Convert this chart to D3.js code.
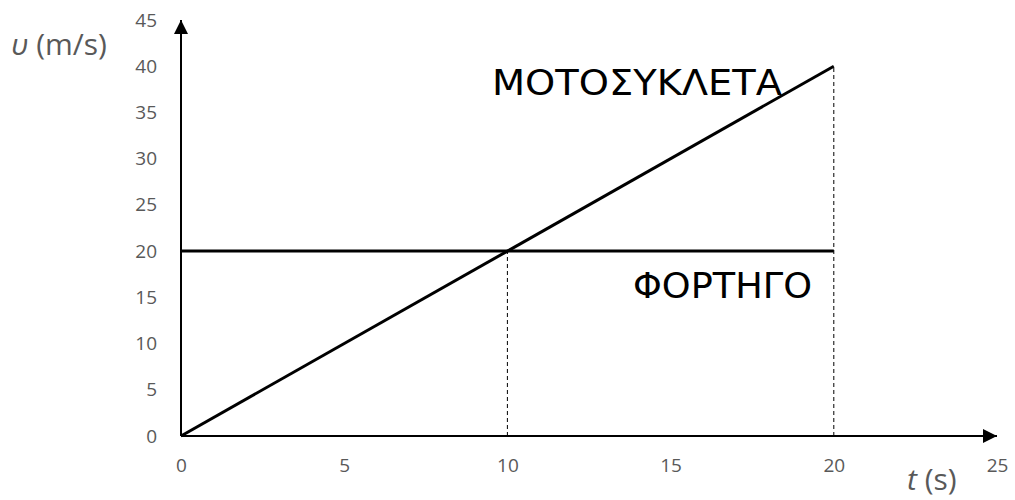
<!DOCTYPE html>
<html>
<head>
<meta charset="utf-8">
<script src="https://cdn.jsdelivr.net/npm/d3@7"></script>
<style>
  body { margin: 0; background: #fff; }
</style>
</head>
<body>
<svg id="drawing_region"></svg>
<script>
// time (s) and speeds (m/s)
const times = [0, 10, 20];
const motoSpeed = [0, 20, 40];
const truckTimes = [0, 20];
const truckSpeed = [20, 20];
const xTicks = [0, 5, 10, 15, 20, 25];
const yTicks = [0, 5, 10, 15, 20, 25, 30, 35, 40, 45];
const crossTimes = [10, 20];   // dashed guides
const crossSpeeds = [20, 40];

const width = 1015, height = 500;

const svg = d3.select('#drawing_region')
    .attr('width', width)
    .attr('height', height);

const xscale = d3.scaleLinear().domain([0, 25]).range([181, 997]);
const yscale = d3.scaleLinear().domain([0, 45]).range([436, 20]);

svg.append('defs').append('marker')
    .attr('id', 'arrow')
    .attr('viewBox', '0 0 10 10')
    .attr('refX', 10).attr('refY', 5)
    .attr('markerWidth', 7).attr('markerHeight', 7)
    .attr('markerUnits', 'strokeWidth')
    .attr('orient', 'auto')
    .append('path')
    .attr('d', 'M0,0 L10,5 L0,10 Z')
    .attr('fill', '#000');

const styleTicks = g => {
    g.select('.domain').remove();
    g.selectAll('.tick text')
        .attr('fill', '#595959')
        .attr('font-family', '"Open Sans", sans-serif')
        .attr('font-size', '19px');
};

// axes (labels only, lines drawn separately with arrows)
const xaxis = d3.axisBottom(xscale).tickValues(xTicks).tickSize(0).tickPadding(23);
svg.append('g')
    .attr('transform', `translate(0, ${yscale(0)})`)
    .call(xaxis)
    .call(styleTicks);

const yaxis = d3.axisLeft(yscale).tickValues(yTicks).tickSize(0).tickPadding(24);
svg.append('g')
    .attr('transform', `translate(${xscale(0)}, 0)`)
    .call(yaxis)
    .call(styleTicks);

// dashed guides
svg.selectAll('line.guide')
    .data(crossTimes)
    .enter()
    .append('line')
    .attr('class', 'guide')
    .attr('x1', d => xscale(d)).attr('x2', d => xscale(d))
    .attr('y1', yscale(0))
    .attr('y2', (d, i) => yscale(crossSpeeds[i]))
    .attr('stroke', '#000')
    .attr('stroke-width', 1)
    .attr('stroke-dasharray', '4,3');

svg.append('line')
    .attr('x1', xscale(0)).attr('y1', yscale(0))
    .attr('x2', xscale(25)).attr('y2', yscale(0))
    .attr('stroke', '#000').attr('stroke-width', 2)
    .attr('marker-end', 'url(#arrow)');

svg.append('line')
    .attr('x1', xscale(0)).attr('y1', yscale(0))
    .attr('x2', xscale(0)).attr('y2', yscale(45))
    .attr('stroke', '#000').attr('stroke-width', 2)
    .attr('marker-end', 'url(#arrow)');

const line = d3.line()
    .x(d => xscale(d[0]))
    .y(d => yscale(d[1]));

svg.append('path')
    .datum(d3.zip(truckTimes, truckSpeed))
    .attr('d', line)
    .attr('fill', 'none')
    .attr('stroke', '#000')
    .attr('stroke-width', 3);

svg.append('path')
    .datum(d3.zip(times, motoSpeed))
    .attr('d', line)
    .attr('fill', 'none')
    .attr('stroke', '#000')
    .attr('stroke-width', 3);

// series labels
svg.append('text')
    .attr('x', 492).attr('y', 95)
    .attr('font-family', '"DejaVu Sans", sans-serif')
    .attr('font-size', '36px')
    .attr('textLength', 290)
    .attr('lengthAdjust', 'spacingAndGlyphs')
    .attr('fill', '#000')
    .text('ΜΟΤΟΣΥΚΛΕΤΑ');

svg.append('text')
    .attr('x', 633).attr('y', 298)
    .attr('font-family', '"DejaVu Sans", sans-serif')
    .attr('font-size', '36px')
    .attr('textLength', 179)
    .attr('lengthAdjust', 'spacingAndGlyphs')
    .attr('fill', '#000')
    .text('ΦΟΡΤΗΓΟ');

// axis titles
const ytitle = svg.append('text')
    .attr('x', 11).attr('y', 55)
    .attr('font-family', '"Open Sans", sans-serif')
    .attr('font-size', '30px')
    .attr('fill', '#595959');
ytitle.append('tspan').attr('font-style', 'italic').text('υ');
ytitle.append('tspan').text(' (m/s)');

const xtitle = svg.append('text')
    .attr('x', 907).attr('y', 490)
    .attr('font-family', '"Open Sans", sans-serif')
    .attr('font-size', '30px')
    .attr('fill', '#595959');
xtitle.append('tspan').attr('font-style', 'italic').text('t');
xtitle.append('tspan').text(' (s)');
</script>
</body>
</html>
